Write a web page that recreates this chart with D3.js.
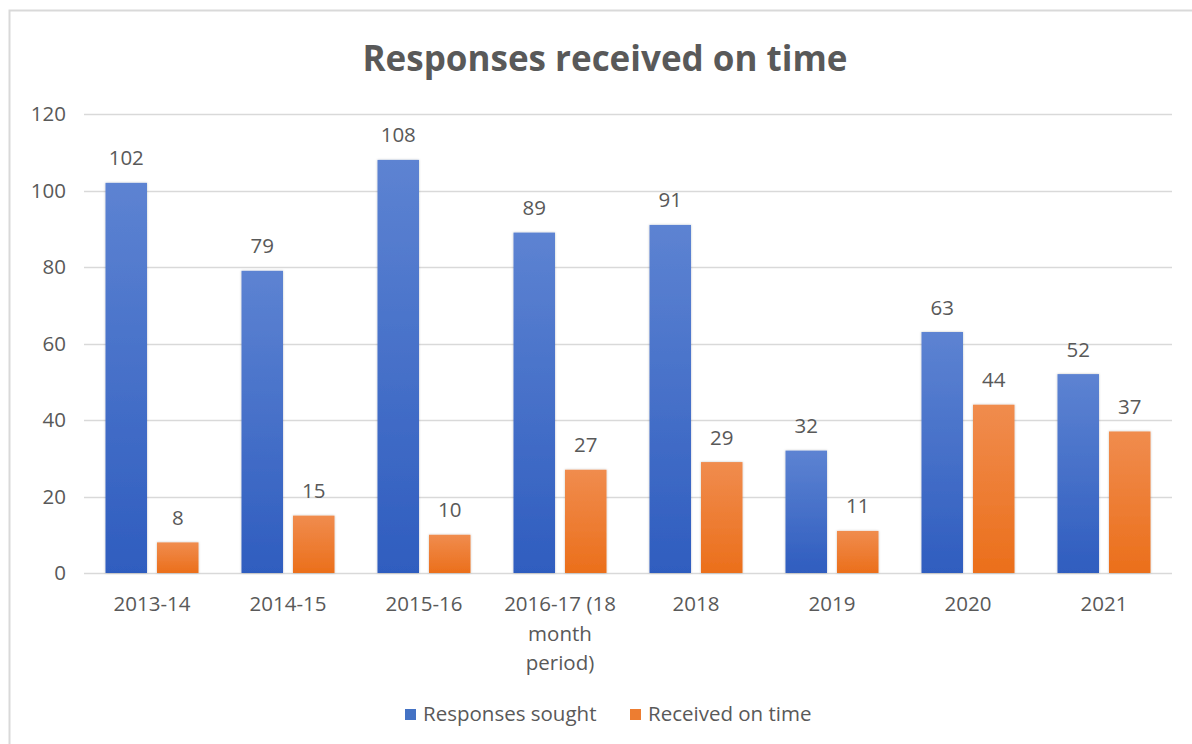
<!DOCTYPE html>
<html>
<head>
<meta charset="utf-8">
<script src="https://cdn.jsdelivr.net/npm/d3@7"></script>
<style>
  html, body { margin: 0; padding: 0; background: #fff; }
  svg { display: block; }
  text { font-family: "Open Sans", Lato, sans-serif; fill: #595959; }
</style>
</head>
<body>
<svg id="chart" width="1192" height="744"></svg>
<script>
// Chart data
const categories = ["2013-14", "2014-15", "2015-16", "2016-17 (18 month period)", "2018", "2019", "2020", "2021"];
const categoryLines = [["2013-14"], ["2014-15"], ["2015-16"], ["2016-17 (18", "month", "period)"], ["2018"], ["2019"], ["2020"], ["2021"]];
const seriesNames = ["Responses sought", "Received on time"];
const responsesSought = [102, 79, 108, 89, 91, 32, 63, 52];
const receivedOnTime = [8, 15, 10, 27, 29, 11, 44, 37];
const yTicks = [0, 20, 40, 60, 80, 100, 120];
const title = "Responses received on time";

const FONT = "'Open Sans', Lato, sans-serif";
const FS = "20.5px";
const svg = d3.select("#chart");

// Gradients for the bar fills
const defs = svg.append("defs");
const grads = [
  { id: "gBlue", top: "#5d83d2", bottom: "#2f5dbf" },
  { id: "gOrange", top: "#f08c4e", bottom: "#eb6f1b" }
];
grads.forEach(g => {
  const lg = defs.append("linearGradient").attr("id", g.id)
    .attr("x1", 0).attr("y1", 0).attr("x2", 0).attr("y2", 1);
  lg.append("stop").attr("offset", "0%").attr("stop-color", g.top);
  lg.append("stop").attr("offset", "100%").attr("stop-color", g.bottom);
});
const shadow = defs.append("filter").attr("id", "soft").attr("x", "-20%").attr("y", "-20%").attr("width", "140%").attr("height", "140%");
shadow.append("feDropShadow").attr("dx", 0).attr("dy", 0).attr("stdDeviation", 1.2).attr("flood-color", "#000").attr("flood-opacity", 0.25);

// Frame (left and top edges)
svg.append("path").attr("d", "M9.5,744 V10.5 H1192")
  .attr("fill", "none").attr("stroke", "#d9d9d9").attr("stroke-width", 2);

// Scales
const plot = { left: 84, right: 1172, top: 114, bottom: 573 };
const x0 = d3.scaleBand().domain(categories).range([plot.left, plot.right]).padding(0);
const x1 = d3.scaleBand().domain(seriesNames).range([21.5, x0.bandwidth() - 21.5]).paddingInner(0.194).paddingOuter(0);
const y = d3.scaleLinear().domain([0, 120]).range([plot.bottom, plot.top]);

// Gridlines
svg.append("g").selectAll("line").data(yTicks).join("line")
  .attr("x1", plot.left).attr("x2", plot.right)
  .attr("y1", d => Math.round(y(d)) + 0.5).attr("y2", d => Math.round(y(d)) + 0.5)
  .attr("stroke", "#d9d9d9").attr("stroke-width", 1.5);

// Y axis labels
const yAxis = d3.axisLeft(y).tickValues(yTicks).tickSize(0).tickPadding(0);
const yg = svg.append("g").attr("transform", `translate(66,0)`).call(yAxis);
yg.select(".domain").remove();
yg.selectAll("text").style("font-size", FS).attr("fill", "#595959")
  .style("font-family", FONT);

// Bars
const seriesData = [responsesSought, receivedOnTime];
const fills = ["url(#gBlue)", "url(#gOrange)"];
const groups = svg.append("g").selectAll("g").data(categories).join("g")
  .attr("transform", d => `translate(${x0(d)},0)`);

groups.selectAll("rect")
  .data((c, i) => seriesNames.map((s, k) => ({ s, k, v: seriesData[k][i] })))
  .join("rect")
  .attr("x", d => x1(d.s))
  .attr("width", x1.bandwidth())
  .attr("y", d => y(d.v))
  .attr("height", d => y(0) - y(d.v))
  .attr("fill", d => fills[d.k])
  .attr("filter", "url(#soft)");

// Value labels
groups.selectAll("text.val")
  .data((c, i) => seriesNames.map((s, k) => ({ s, k, v: seriesData[k][i] })))
  .join("text").attr("class", "val")
  .attr("x", d => x1(d.s) + x1.bandwidth() / 2)
  .attr("y", d => y(d.v) - 17.5)
  .attr("text-anchor", "middle")
  .style("font-size", FS)
  .text(d => d.v);

// Category labels
const xl = svg.append("g").selectAll("text").data(categories).join("text")
  .attr("x", d => x0(d) + x0.bandwidth() / 2)
  .attr("y", 611)
  .attr("text-anchor", "middle")
  .style("font-size", FS);
xl.each(function(d, i) {
  const t = d3.select(this);
  categoryLines[i].forEach((line, j) => {
    t.append("tspan").attr("x", x0(d) + x0.bandwidth() / 2).attr("dy", j === 0 ? 0 : 29.5).text(line);
  });
});

// Title
svg.append("text").attr("x", 605).attr("y", 71)
  .attr("text-anchor", "middle")
  .style("font-size", "35px").style("font-weight", "bold")
  .text(title);

// Legend
const legendItems = [
  { name: seriesNames[0], color: "#4472c4", x: 405 },
  { name: seriesNames[1], color: "#ed7d31", x: 630 }
];
const lg = svg.append("g").selectAll("g").data(legendItems).join("g")
  .attr("transform", d => `translate(${d.x},0)`);
lg.append("rect").attr("x", 0).attr("y", 709).attr("width", 11).attr("height", 11).attr("fill", d => d.color);
lg.append("text").attr("x", 18).attr("y", 721).style("font-size", FS).text(d => d.name);
</script>
</body>
</html>
